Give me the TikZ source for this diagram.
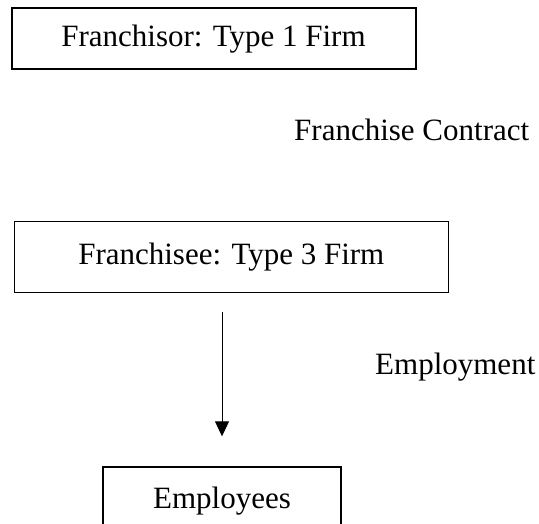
\documentclass[tikz,border=0pt]{standalone}
\usepackage{fontspec}
\setmainfont{Liberation Serif}
\usetikzlibrary{arrows.meta}

\begin{document}
\begin{tikzpicture}[x=1pt,y=-1pt,
  firm/.style={draw, line width=1pt, inner sep=0pt, font=\fontsize{31}{37}\selectfont},
  tag/.style={inner sep=0pt, font=\fontsize{31}{37}\selectfont}]
\useasboundingbox (0,0) rectangle (539,524);
\node[firm, line width=2pt, minimum width=404pt, minimum height=61pt] (franchisor) at (213.5,39) {Franchisor: Type 1 Firm};
\node[tag, anchor=base west] (contract) at (294,141) {Franchise Contract};
\node[firm, minimum width=433.5pt, minimum height=70.5pt] (franchisee) at (231.3,257.2) {Franchisee: Type 3 Firm};
\node[tag, anchor=base west] (employment) at (375,374) {Employment};
\node[firm, line width=1.4pt, minimum width=238pt, minimum height=68pt] (employees) at (222,501) {Employees};
\draw [-{Triangle[width=14pt,length=15pt]}, line width=1pt, shorten <=19pt, shorten >=30pt]
  (franchisee.south -| employees.north) -- (employees.north);
\end{tikzpicture}
\end{document}
